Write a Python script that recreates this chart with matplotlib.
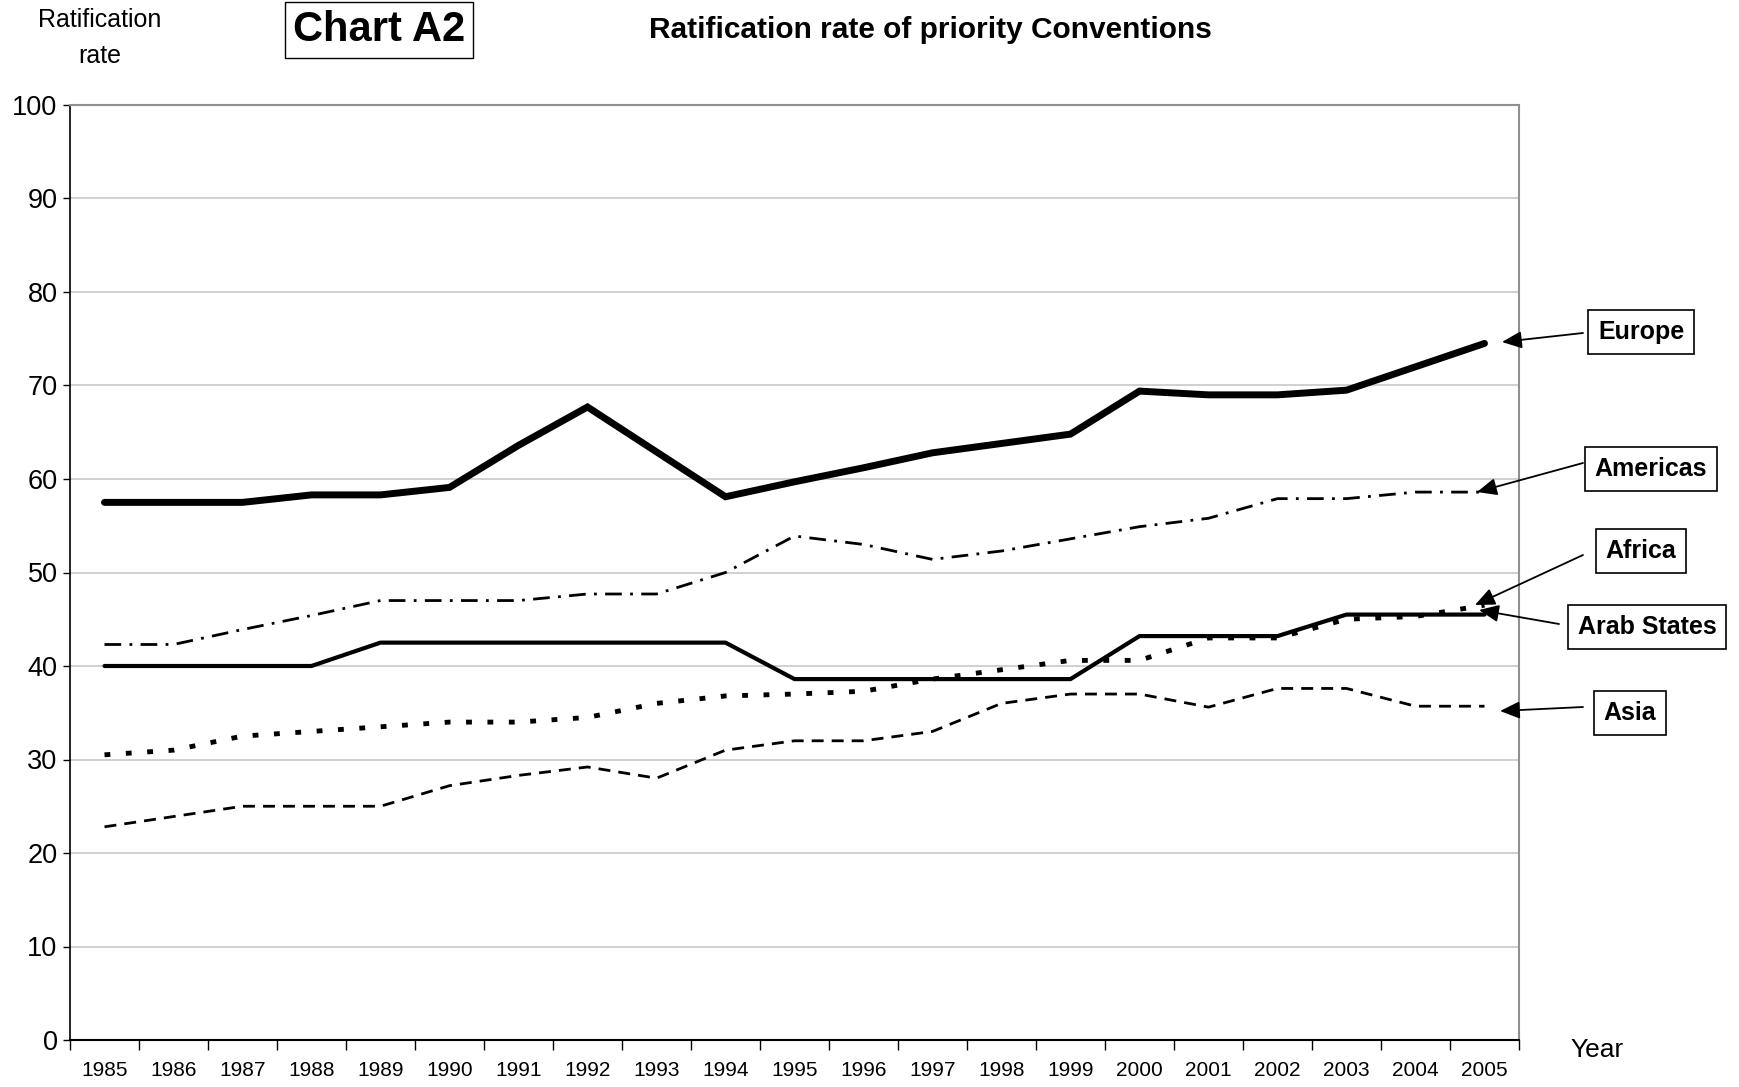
import matplotlib
matplotlib.use("Agg")
import matplotlib.pyplot as plt
import numpy as np

years = [str(y) for y in range(1985, 2006)]
europe = [57.5, 57.5, 57.5, 58.3, 58.3, 59.1, 63.6, 67.7, 62.9, 58.1, 59.7,
          61.2, 62.8, 63.8, 64.8, 69.4, 69.0, 69.0, 69.5, 72.0, 74.5]
americas = [42.3, 42.3, 43.9, 45.4, 47.0, 47.0, 47.0, 47.7, 47.7, 50.0, 53.9,
            53.0, 51.4, 52.3, 53.6, 54.9, 55.8, 57.9, 57.9, 58.6, 58.6]
arab_states = [40.0, 40.0, 40.0, 40.0, 42.5, 42.5, 42.5, 42.5, 42.5, 42.5, 38.6,
               38.6, 38.6, 38.6, 38.6, 43.2, 43.2, 43.2, 45.5, 45.5, 45.5]
africa = [30.5, 31.0, 32.5, 33.0, 33.5, 34.0, 34.0, 34.5, 36.0, 36.8, 37.0,
          37.3, 38.6, 39.6, 40.6, 40.6, 43.0, 43.0, 45.0, 45.3, 46.5]
asia = [22.8, 23.9, 25.0, 25.0, 25.0, 27.2, 28.3, 29.2, 28.0, 31.0, 32.0,
        32.0, 33.0, 36.0, 37.0, 37.0, 35.6, 37.6, 37.6, 35.7, 35.7]
y_ticks = [0, 10, 20, 30, 40, 50, 60, 70, 80, 90, 100]

sans = ['Liberation Sans', 'DejaVu Sans']

W, H = 1739, 1087
fig = plt.figure(figsize=(W / 100, H / 100), dpi=100)
ax = fig.add_axes([70 / W, 1 - 1040 / H, 1449 / W, 935 / H])

x = np.arange(len(years))
ax.plot(x, europe, color='black', lw=5, solid_capstyle='round', solid_joinstyle='miter', zorder=5)
ax.plot(x, americas, color='black', lw=2, linestyle=(0, (6, 3, 1, 3)), zorder=4)
ax.plot(x, arab_states, color='black', lw=3, solid_capstyle='round', zorder=4)
ax.plot(x, africa, color='black', lw=3.5, linestyle=(0, (1.2, 3.2)), dash_capstyle='butt', zorder=4)
ax.plot(x, asia, color='black', lw=2, linestyle=(0, (4.3, 2.9)), zorder=4)

ax.set_xlim(-0.5, len(years) - 0.5)
ax.set_ylim(0, 100)
ax.set_yticks(y_ticks)
ax.set_yticklabels([str(v) for v in y_ticks], fontsize=19.5, family=sans)
for v in y_ticks[1:]:
    ax.axhline(v, color='#c8c8c8', lw=1.2, zorder=1)

ax.set_xticks(np.arange(len(years) + 1) - 0.5)
ax.set_xticklabels([])
ax.set_xticks(x, minor=True)
ax.set_xticklabels(years, minor=True, fontsize=15, family=sans)
ax.tick_params(axis='x', which='minor', length=0, pad=15)
ax.tick_params(axis='x', which='major', length=7, direction='out', width=1)
ax.tick_params(axis='y', length=5, direction='out', width=1, pad=4)

ax.spines['left'].set_color('black')
ax.spines['left'].set_linewidth(1.2)
ax.spines['bottom'].set_color('black')
ax.spines['bottom'].set_linewidth(1.5)
ax.spines['top'].set_color('#909090')
ax.spines['top'].set_linewidth(1.5)
ax.spines['right'].set_color('#909090')
ax.spines['right'].set_linewidth(1.5)

def fp(px, py):
    return (px / W, 1 - py / H)

fig.text(*fp(100, 38), 'Ratification\nrate', ha='center', va='center', fontsize=18,
         family=sans, linespacing=1.6)
fig.text(*fp(379, 30), 'Chart A2', ha='center', va='center', fontsize=30, fontweight='bold',
         family=sans, bbox=dict(boxstyle='square,pad=0.2', fc='white', ec='black', lw=1))
fig.text(*fp(930, 30), 'Ratification rate of priority Conventions', ha='center', va='center',
         fontsize=21.5, fontweight='bold', family=sans)
fig.text(*fp(1597, 1050), 'Year', ha='center', va='center', fontsize=19, family=sans)

labels = [
    ('Europe', (1641, 332), (1502, 342), (1583, 333)),
    ('Americas', (1651, 469), (1477, 492), (1583, 463)),
    ('Africa', (1641, 551), (1475, 605), (1583, 555)),
    ('Arab States', (1647, 627), (1479, 610), (1559, 624)),
    ('Asia', (1630, 713), (1500, 711), (1583, 707)),
]
for text, (bx, by), (tx, ty), (sx, sy) in labels:
    fig.text(*fp(bx, by), text, ha='center', va='center', fontsize=18, fontweight='bold',
             family=sans, bbox=dict(boxstyle='square,pad=0.4', fc='white', ec='black', lw=1.2),
             zorder=10)
    fig.add_artist(matplotlib.patches.FancyArrowPatch(
        fp(sx, sy), fp(tx, ty), transform=fig.transFigure,
        arrowstyle='-|>,head_length=8,head_width=3.5', color='black', lw=1.3,
        shrinkA=0, shrinkB=0, mutation_scale=1.5, zorder=9))

fig.savefig('out.png', dpi=100, facecolor='white')
